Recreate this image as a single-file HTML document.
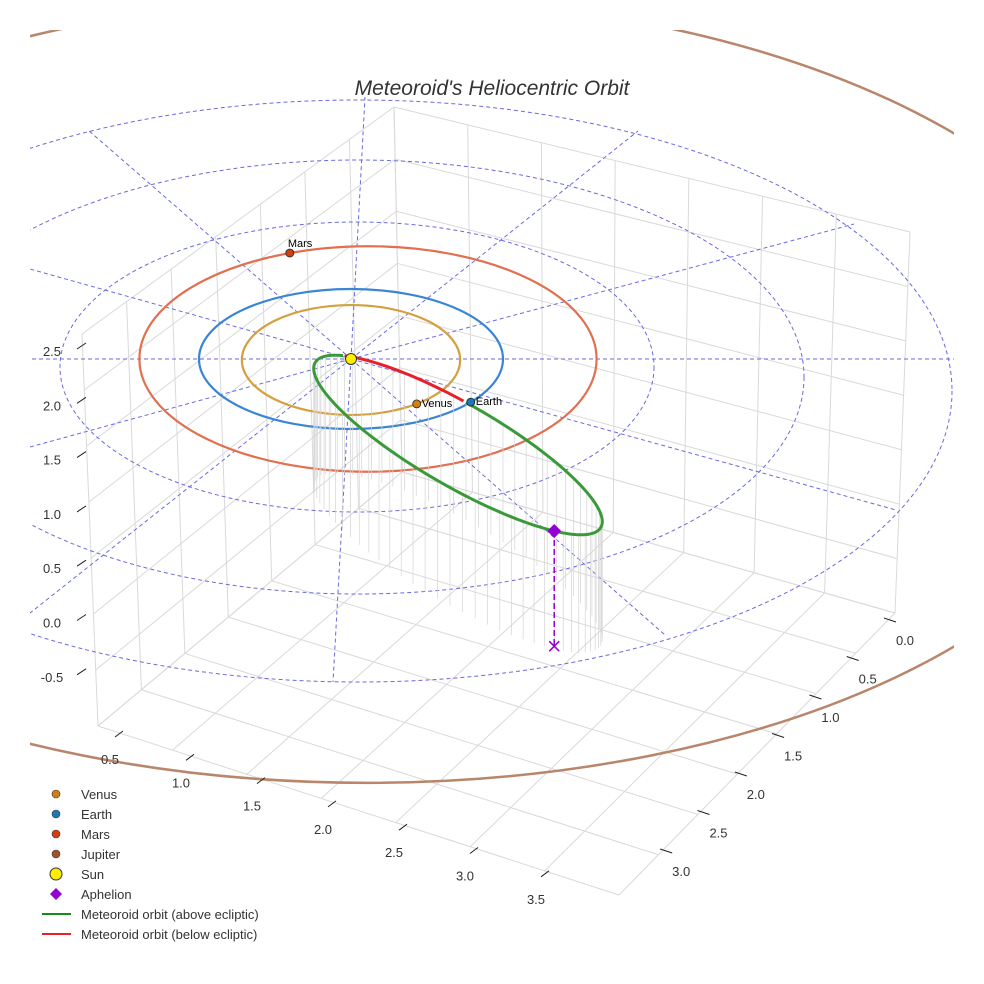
<!DOCTYPE html>
<html><head><meta charset="utf-8"><style>
html,body{margin:0;padding:0;background:#fff;width:984px;height:984px;overflow:hidden}
svg{display:block;font-family:"Liberation Sans",sans-serif;overflow:hidden}
</style></head><body>
<svg id="chart" width="984" height="984" viewBox="0 0 984 984" xmlns="http://www.w3.org/2000/svg">
<defs><clipPath id="clip"><rect x="30" y="30" width="924" height="924"/></clipPath></defs>
<rect width="984" height="984" fill="#fff"/>
<g id="box"></g>
<g id="plot" clip-path="url(#clip)"></g>
<g id="ticks"></g>
<text x="492" y="95" text-anchor="middle" font-size="21" font-style="italic" fill="#333">Meteoroid's Heliocentric Orbit</text>
<g id="legend"></g>
</svg>
<script>
const NS='http://www.w3.org/2000/svg';
// ---- data ----
const planetNames=['Venus','Earth','Mars','Jupiter'];
const planetRadiiAU=[0.723,1.0,1.524,5.203];
const planetAnglesDeg=[53,38,-110,200];
const gridRingsAU=[2,3,4];
const xTicks=[0.5,1.0,1.5,2.0,2.5,3.0,3.5];
const yTicks=[0.0,0.5,1.0,1.5,2.0,2.5,3.0];
const zTicks=[-0.5,0.0,0.5,1.0,1.5,2.0,2.5];
const orbitSemiMajor=[1.085];
const orbitSemiMinor=[0.27];
const orbitTiltDeg=[30];
const belowRangeDeg=[-150,-95];
const aphelionParamDeg=[40];
const aphelionDrop=[0.9];
// ---- styles / projection (not data) ----
const planetColors=['#d4a040','#3a86d4','#e07050','#b8866a'];
const markerColors=['#d08010','#1f77b4','#d04010','#a0522d'];
const orbKX=[151,152,150,149], orbKY=[76,70,74,75.5], orbOX=[0,0,17,16], orbOY=[1,0,0,31];
const ringStyle=[[357,367,297,145],[358,377,446,217],[358,391,594,291]];
const radialDirs=[[603,0],[545,151],[314,276],[-18,323],[-642,508],[-642,176],[-700,0],[-642,-180],[-263,-229],[14,-262],[287,-228],[503,-135]];
const SX=351,SY=359;
function proj(i,r,thDeg){const t=thDeg*Math.PI/180;return [SX+orbOX[i]+orbKX[i]*r*Math.cos(t),SY+orbOY[i]+orbKY[i]*r*Math.sin(t)];}
function mk(tag,attrs,parent){const e=document.createElementNS(NS,tag);for(const k in attrs)e.setAttribute(k,attrs[k]);parent.appendChild(e);return e;}
const box=document.getElementById('box'),plot=document.getElementById('plot'),ticks=document.getElementById('ticks'),legend=document.getElementById('legend');
function lerp(a,b,t){return [a[0]+(b[0]-a[0])*t,a[1]+(b[1]-a[1])*t];}
const FL=[98,726],FB=[402,472],FR=[895,613],FF=[619,895],TL=[82,334],TB=[394,107],TR=[910,232];
function line(p,q,parent,st,name){const l=mk('line',{x1:p[0],y1:p[1],x2:q[0],y2:q[1],stroke:st.c,'stroke-width':st.w,'stroke-dasharray':st.d||'none',fill:'none'},parent);return l;}
const G={c:'#d9d9d9',w:1};
for(let i=0;i<=7;i++){const t=i/7;line(lerp(FL,FF,t),lerp(FB,FR,t),box,G,'floor-gridline');}
for(let i=0;i<=7;i++){const t=i/7;line(lerp(FL,FB,t),lerp(FF,FR,t),box,G,'floor-gridline');}
for(let i=0;i<=7;i++){const t=i/7;line(lerp(FL,FB,t),lerp(TL,TB,t),box,G,'wall-gridline');}
for(let i=0;i<=7;i++){const t=i/7;line(lerp(FL,TL,t),lerp(FB,TB,t),box,G,'wall-gridline');}
for(let i=0;i<=7;i++){const t=i/7;line(lerp(FB,FR,t),lerp(TB,TR,t),box,G,'wall-gridline');}
for(let i=0;i<=7;i++){const t=i/7;line(lerp(FB,TB,t),lerp(FR,TR,t),box,G,'wall-gridline');}
gridRingsAU.forEach((r,i)=>{const s=ringStyle[i];const e=mk('ellipse',{cx:s[0],cy:s[1],rx:s[2],ry:s[3],fill:'none',stroke:'#6a6ae0','stroke-width':1,'stroke-dasharray':'4,3'},plot);
});
radialDirs.forEach(d=>{line([SX,SY],[SX+d[0],SY+d[1]],plot,{c:'#6a6ae0',w:1,d:'4,3'},'radial-gridline');});
planetRadiiAU.forEach((r,i)=>{const e=mk('ellipse',{cx:SX+orbOX[i],cy:SY+orbOY[i],rx:r*orbKX[i],ry:r*orbKY[i],fill:'none',stroke:planetColors[i],'stroke-width':i==3?2.5:2.2},plot);
});
const tilt=orbitTiltDeg[0]*Math.PI/180;
const OC=[458,445];
function orb(tDeg){const t=tDeg*Math.PI/180;const a=orbitSemiMajor[0]*152,b=orbitSemiMinor[0]*152;const u=a*Math.cos(t),v=b*Math.sin(t);
return [OC[0]+u*Math.cos(tilt)-v*Math.sin(tilt),OC[1]+u*Math.sin(tilt)+v*Math.cos(tilt)];}
for(let t=-180;t<180;t+=5){const p=orb(t);line(p,[p[0],p[1]+118],plot,{c:'#d4d4d4',w:0.7},'drop-line');}
let gpts=[],rpts=[];
for(let t=belowRangeDeg[1];t<=belowRangeDeg[0]+360;t+=2)gpts.push(orb(t));
for(let t=belowRangeDeg[0];t<=belowRangeDeg[1];t+=2)rpts.push(orb(t));
const gp=mk('polyline',{points:gpts.map(p=>p.join(',')).join(' '),fill:'none',stroke:'#3a9a3a','stroke-width':3},plot);

const rp=mk('polyline',{points:rpts.map(p=>p.join(',')).join(' '),fill:'none',stroke:'#e8202a','stroke-width':3},plot);

const ap=orb(aphelionParamDeg[0]);const apB=[ap[0],ap[1]+aphelionDrop[0]*128];
line(ap,apB,plot,{c:'#9400d3',w:1.5,d:'6,3'},'aphelion-drop-line');
const dm=mk('path',{d:`M${ap[0]},${ap[1]-7} L${ap[0]+7},${ap[1]} L${ap[0]},${ap[1]+7} L${ap[0]-7},${ap[1]} Z`,fill:'#9400d3'},plot);

const xm=mk('path',{d:`M${apB[0]-5},${apB[1]-5} L${apB[0]+5},${apB[1]+5} M${apB[0]+5},${apB[1]-5} L${apB[0]-5},${apB[1]+5}`,stroke:'#9400d3','stroke-width':1.5},plot);

planetNames.forEach((n,i)=>{const p=proj(i,planetRadiiAU[i],planetAnglesDeg[i]);
const c=mk('circle',{cx:p[0],cy:p[1],r:4,fill:markerColors[i],stroke:'#222','stroke-width':0.8},plot);

const tx=i==2?mk('text',{x:p[0]-2,y:p[1]-6,'font-size':11,fill:'#000'},plot):mk('text',{x:p[0]+5,y:p[1]+3,'font-size':11,fill:'#000'},plot);
tx.textContent=n;});
const sun=mk('circle',{cx:SX,cy:SY,r:5.5,fill:'#ffee00',stroke:'#333','stroke-width':1},plot);

function xPos(v){return [110+(v-0.5)/0.5*71,764+(v-0.5)/0.5*23.3];}
function yPos(v){return [905-v/0.5*37.3,645+v/0.5*38.5];}
function zPos(v){return [60,356+(2.5-v)*54.3*2];}
xTicks.forEach(v=>{const p=xPos(v);const t=mk('text',{x:p[0],y:p[1],'font-size':13,fill:'#333','text-anchor':'middle'},ticks);t.textContent=v.toFixed(1);

line([p[0]+5,p[1]-27],[p[0]+13,p[1]-33],ticks,{c:'#222',w:1},'x-tick');});
yTicks.forEach(v=>{const p=yPos(v);const t=mk('text',{x:p[0],y:p[1],'font-size':13,fill:'#333','text-anchor':'middle'},ticks);t.textContent=v.toFixed(1);

line([p[0]-21,p[1]-27],[p[0]-9,p[1]-23],ticks,{c:'#222',w:1},'y-tick');});
zTicks.forEach(v=>{const p=zPos(v);const t=mk('text',{x:p[0]-8,y:p[1],'font-size':13,fill:'#333','text-anchor':'middle'},ticks);t.textContent=v.toFixed(1);

line([p[0]+17,p[1]-7],[p[0]+26,p[1]-13],ticks,{c:'#222',w:1},'z-tick');});
const legLabels=['Venus','Earth','Mars','Jupiter','Sun','Aphelion','Meteoroid orbit (above ecliptic)','Meteoroid orbit (below ecliptic)'];
legLabels.forEach((lab,i)=>{const y=794+i*20;const g=mk('g',{},legend);

if(i<4)mk('circle',{cx:56,cy:y,r:4,fill:markerColors[i],stroke:'#333','stroke-width':0.6},g);
else if(i==4)mk('circle',{cx:56,cy:y,r:6,fill:'#ffee00',stroke:'#333','stroke-width':1},g);
else if(i==5)mk('path',{d:`M56,${y-6} L62,${y} L56,${y+6} L50,${y} Z`,fill:'#9400d3'},g);
else mk('line',{x1:42,y1:y,x2:71,y2:y,stroke:i==6?'#1a8a1a':'#e8202a','stroke-width':2},g);
const t=mk('text',{x:81,y:y+5,'font-size':13,fill:'#333'},g);t.textContent=lab;});
</script>
</body></html>
